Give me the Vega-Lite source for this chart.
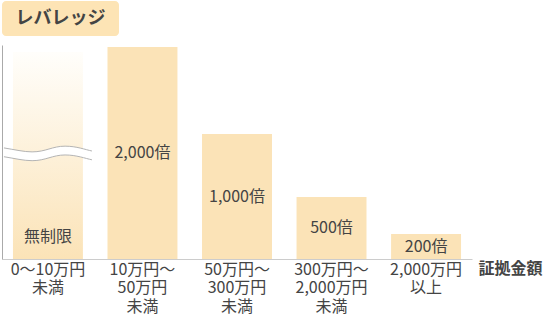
{
  "$schema": "https://vega.github.io/schema/vega-lite/v6.json",
  "padding": {"left": 1, "top": 1, "right": 0, "bottom": 0},
  "config": {
    "view": {"stroke": null},
    "font": "Noto Sans CJK JP",
    "concat": {"spacing": 9}
  },
  "vconcat": [
    {
      "width": 117,
      "height": 35,
      "view": {"fill": "#fde4b5", "cornerRadius": 4, "stroke": null},
      "data": {"values": [{"t": "レバレッジ"}]},
      "mark": {"type": "text", "fontSize": 18, "fontWeight": "bold", "color": "#444444"},
      "encoding": {"text": {"field": "t", "type": "nominal"}}
    },
    {
      "width": 470,
      "height": 214,
      "data": {
        "values": [
          {"range": "0～10万円\n未満", "level": 207, "label": "無制限", "unlimited": true},
          {"range": "10万円～\n50万円\n未満", "level": 212, "label": "2,000倍", "unlimited": false},
          {"range": "50万円～\n300万円\n未満", "level": 125, "label": "1,000倍", "unlimited": false},
          {"range": "300万円～\n2,000万円\n未満", "level": 62, "label": "500倍", "unlimited": false},
          {"range": "2,000万円\n以上", "level": 25, "label": "200倍", "unlimited": false}
        ]
      },
      "encoding": {
        "x": {
          "field": "range",
          "type": "nominal",
          "sort": ["0～10万円\n未満", "10万円～\n50万円\n未満", "50万円～\n300万円\n未満", "300万円～\n2,000万円\n未満", "2,000万円\n以上"],
          "scale": {"paddingInner": 0.26, "paddingOuter": 0.116},
          "axis": {
            "title": "証拠金額",
            "titleFontSize": 16,
            "titleFontWeight": "bold",
            "titleColor": "#444444",
            "titleX": 476,
            "titleY": 9,
            "titleAlign": "left",
            "titleBaseline": "middle",
            "titleAnchor": "start",
            "domainColor": "#cccccc",
            "ticks": false,
            "labelAngle": 0,
            "labelFontSize": 16,
            "labelColor": "#444444",
            "labelPadding": 2,
            "labelLineHeight": 18.5,
            "labelOverlap": false,
            "labelExpr": "split(datum.label, '\\n')",
            "zindex": 0
          }
        }
      },
      "layer": [
        {
          "transform": [{"filter": "!datum.unlimited"}],
          "mark": {"type": "bar", "color": "#fbe3b7"},
          "encoding": {
            "y": {
              "field": "level",
              "type": "quantitative",
              "scale": {"domain": [0, 214], "nice": false},
              "axis": {"labels": false, "ticks": false, "grid": false, "title": null, "domainColor": "#aaaaaa", "zindex": 0}
            }
          }
        },
        {
          "transform": [{"filter": "datum.unlimited"}],
          "mark": {
            "type": "bar",
            "color": {
              "gradient": "linear",
              "x1": 0, "y1": 1, "x2": 0, "y2": 0,
              "stops": [
                {"offset": 0, "color": "#fbe3b7"},
                {"offset": 1, "color": "#fffefb"}
              ]
            }
          },
          "encoding": {"y": {"field": "level", "type": "quantitative"}}
        },
        {
          "transform": [{"filter": "datum.unlimited"}],
          "mark": {
            "type": "point",
            "shape": "M -1 -0.07 C -0.75 -0.03 -0.55 0.02 -0.36 0.02 C -0.05 0.02 0.1 -0.11 0.39 -0.11 C 0.65 -0.11 0.85 -0.03 1 0 L 1 0.2 C 0.85 0.17 0.65 0.09 0.39 0.09 C 0.1 0.09 -0.05 0.22 -0.36 0.22 C -0.55 0.22 -0.75 0.17 -1 0.13 Z",
            "filled": true,
            "fill": "#ffffff",
            "strokeWidth": 0,
            "opacity": 1,
            "size": 7744
          },
          "encoding": {"y": {"datum": 108, "type": "quantitative"}}
        },
        {
          "transform": [{"filter": "datum.unlimited"}],
          "mark": {
            "type": "point",
            "shape": "M -1 -0.07 C -0.75 -0.03 -0.55 0.02 -0.36 0.02 C -0.05 0.02 0.1 -0.11 0.39 -0.11 C 0.65 -0.11 0.85 -0.03 1 0 M -1 0.13 C -0.75 0.17 -0.55 0.22 -0.36 0.22 C -0.05 0.22 0.1 0.09 0.39 0.09 C 0.65 0.09 0.85 0.17 1 0.2",
            "filled": false,
            "stroke": "#b4b4b4",
            "strokeWidth": 1,
            "opacity": 1,
            "size": 7744
          },
          "encoding": {"y": {"datum": 108, "type": "quantitative"}}
        },
        {
          "transform": [
            {"filter": "!datum.unlimited"},
            {"calculate": "datum.level / 2", "as": "mid"}
          ],
          "mark": {"type": "text", "fontSize": 16, "color": "#444444"},
          "encoding": {
            "y": {"field": "mid", "type": "quantitative"},
            "text": {"field": "label", "type": "nominal"}
          }
        },
        {
          "transform": [{"filter": "datum.unlimited"}],
          "mark": {"type": "text", "fontSize": 16, "color": "#444444", "yOffset": -22},
          "encoding": {
            "y": {"datum": 0, "type": "quantitative"},
            "text": {"field": "label", "type": "nominal"}
          }
        }
      ]
    }
  ]
}
